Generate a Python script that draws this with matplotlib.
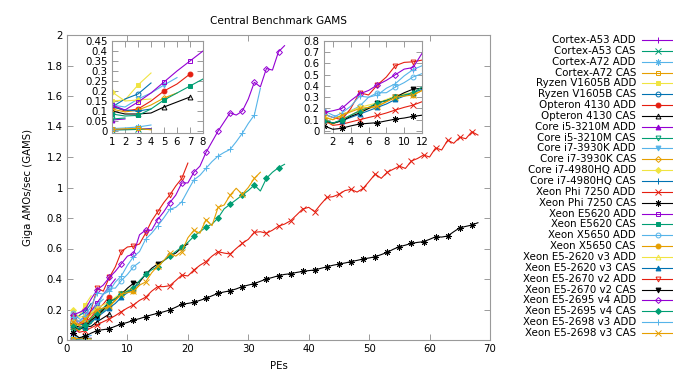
import numpy as np
import matplotlib
matplotlib.use("Agg")
from matplotlib import pyplot as plt
from matplotlib.lines import Line2D
from matplotlib.ticker import FuncFormatter

# GAMS per number of PEs, one list per machine/operation (x starts at 1)
cortex_a53_add = [0.006, 0.008, 0.010, 0.012]
cortex_a53_cas = [0.005, 0.006, 0.008, 0.009]
cortex_a72_add = [0.012, 0.015, 0.020, 0.030]
cortex_a72_cas = [0.008, 0.011, 0.013, 0.006]
ryzen_add = [0.15, 0.155, 0.23, 0.29]
ryzen_cas = [0.12, 0.16, 0.185, 0.24]
opteron_add = [0.125, 0.10, 0.11, 0.15, 0.20, 0.235, 0.285]
opteron_cas = [0.10, 0.085, 0.085, 0.09, 0.12, 0.145, 0.17]
i5_3210m_add = [0.055, 0.06]
i5_3210m_cas = [0.06, 0.065]
i7_3930k_add = [0.13, 0.12, 0.16, 0.19, 0.23, 0.267]
i7_3930k_cas = [0.11, 0.095, 0.105, 0.13, 0.165, 0.19]
i7_4980hq_add = [0.195, 0.15, 0.155, 0.16]
i7_4980hq_cas = [0.12, 0.105, 0.10, 0.11]
phi_add = [0.095, 0.05, 0.06, 0.08, 0.10, 0.12, 0.138, 0.16, 0.186, 0.21,
           0.23, 0.26, 0.28, 0.32, 0.35, 0.35, 0.356, 0.39, 0.426, 0.42,
           0.459, 0.49, 0.514, 0.55, 0.579, 0.57, 0.564, 0.60, 0.634, 0.66,
           0.706, 0.71, 0.70, 0.72, 0.747, 0.76, 0.782, 0.82, 0.859, 0.87,
           0.841, 0.89, 0.935, 0.94, 0.955, 0.98, 0.988, 0.97, 0.994, 1.04,
           1.088, 1.06, 1.10, 1.12, 1.14, 1.125, 1.174, 1.19, 1.213, 1.20,
           1.26, 1.246, 1.31, 1.29, 1.33, 1.32, 1.366, 1.344]
phi_cas = [0.045, 0.015, 0.024, 0.045, 0.062, 0.068, 0.074, 0.09, 0.105, 0.115,
           0.13, 0.14, 0.153, 0.165, 0.175, 0.185, 0.197, 0.215, 0.234, 0.24,
           0.247, 0.26, 0.273, 0.29, 0.306, 0.315, 0.323, 0.335, 0.35, 0.36,
           0.37, 0.385, 0.40, 0.41, 0.422, 0.43, 0.435, 0.443, 0.45, 0.455,
           0.459, 0.47, 0.48, 0.49, 0.498, 0.505, 0.514, 0.522, 0.531, 0.538,
           0.546, 0.56, 0.575, 0.595, 0.612, 0.622, 0.634, 0.64, 0.645, 0.66,
           0.677, 0.675, 0.682, 0.71, 0.736, 0.745, 0.754, 0.769]
e5620_add = [0.13, 0.105, 0.145, 0.19, 0.245, 0.30, 0.35, 0.40]
e5620_cas = [0.085, 0.075, 0.078, 0.11, 0.155, 0.19, 0.225, 0.26]
x5650_add = [0.18, 0.14, 0.12, 0.18, 0.22, 0.30, 0.34, 0.34, 0.39, 0.43, 0.48, 0.51]
x5650_cas = [0.09, 0.06, 0.10, 0.14, 0.18, 0.20, 0.22, 0.26, 0.30, 0.32, 0.32, 0.36]
e5_2620_add = [0.13, 0.10, 0.14, 0.18, 0.21, 0.23, 0.25, 0.28, 0.31, 0.33, 0.34, 0.38]
e5_2620_cas = [0.10, 0.07, 0.09, 0.12, 0.15, 0.18, 0.21, 0.24, 0.28, 0.31, 0.34, 0.37]
e5_2670_add = [0.15, 0.12, 0.10, 0.20, 0.34, 0.32, 0.41, 0.48, 0.58, 0.61,
               0.615, 0.63, 0.70, 0.78, 0.84, 0.90, 0.95, 1.01, 1.06, 1.16]
e5_2670_cas = [0.09, 0.07, 0.09, 0.13, 0.16, 0.20, 0.25, 0.27, 0.30, 0.34,
               0.372, 0.38, 0.43, 0.47, 0.498, 0.52, 0.55, 0.57, 0.605, 0.63]
e5_2695_add = [0.165, 0.18, 0.20, 0.27, 0.33, 0.36, 0.41, 0.45, 0.50, 0.55,
               0.564, 0.69, 0.72, 0.72, 0.79, 0.84, 0.90, 0.95, 1.03, 1.03,
               1.10, 1.14, 1.23, 1.30, 1.37, 1.43, 1.49, 1.475, 1.50, 1.58,
               1.69, 1.66, 1.78, 1.77, 1.89, 1.93]
e5_2695_cas = [0.10, 0.07, 0.10, 0.14, 0.18, 0.21, 0.25, 0.27, 0.30, 0.32,
               0.34, 0.39, 0.43, 0.46, 0.48, 0.52, 0.55, 0.58, 0.61, 0.64,
               0.68, 0.71, 0.74, 0.76, 0.80, 0.86, 0.89, 0.92, 0.95, 0.98,
               1.016, 0.977, 1.06, 1.10, 1.13, 1.152]
e5_2698_add = [0.15, 0.12, 0.16, 0.22, 0.31, 0.30, 0.32, 0.38, 0.42, 0.49,
               0.546, 0.58, 0.66, 0.70, 0.748, 0.80, 0.857, 0.87, 0.907, 0.98,
               1.05, 1.08, 1.126, 1.17, 1.206, 1.23, 1.25, 1.30, 1.355, 1.42,
               1.475, 1.65]
e5_2698_cas = [0.12, 0.10, 0.14, 0.17, 0.20, 0.21, 0.22, 0.26, 0.30, 0.31,
               0.32, 0.36, 0.38, 0.44, 0.485, 0.52, 0.57, 0.55, 0.58, 0.67,
               0.72, 0.70, 0.79, 0.75, 0.87, 0.885, 0.95, 0.995, 0.955, 1.00,
               1.06, 1.10]

labels = ["Cortex-A53 ADD", "Cortex-A53 CAS", "Cortex-A72 ADD", "Cortex-A72 CAS",
          "Ryzen V1605B ADD", "Ryzen V1605B CAS", "Opteron 4130 ADD", "Opteron 4130 CAS",
          "Core i5-3210M ADD", "Core i5-3210M CAS", "Core i7-3930K ADD", "Core i7-3930K CAS",
          "Core i7-4980HQ ADD", "Core i7-4980HQ CAS", "Xeon Phi 7250 ADD", "Xeon Phi 7250 CAS",
          "Xeon E5620 ADD", "Xeon E5620 CAS", "Xeon X5650 ADD", "Xeon X5650 CAS",
          "Xeon E5-2620 v3 ADD", "Xeon E5-2620 v3 CAS", "Xeon E5-2670 v2 ADD", "Xeon E5-2670 v2 CAS",
          "Xeon E5-2695 v4 ADD", "Xeon E5-2695 v4 CAS", "Xeon E5-2698 v3 ADD", "Xeon E5-2698 v3 CAS"]
values = [cortex_a53_add, cortex_a53_cas, cortex_a72_add, cortex_a72_cas,
          ryzen_add, ryzen_cas, opteron_add, opteron_cas,
          i5_3210m_add, i5_3210m_cas, i7_3930k_add, i7_3930k_cas,
          i7_4980hq_add, i7_4980hq_cas, phi_add, phi_cas,
          e5620_add, e5620_cas, x5650_add, x5650_cas,
          e5_2620_add, e5_2620_cas, e5_2670_add, e5_2670_cas,
          e5_2695_add, e5_2695_cas, e5_2698_add, e5_2698_cas]

# which series go into the two zoom insets
small_set = [0, 1, 2, 3, 4, 5, 6, 7, 8, 9, 10, 11, 12, 13, 16, 17]
big_set = [14, 15, 18, 19, 20, 21, 22, 23, 24, 25, 26, 27]

palette = ["#9400d3", "#009e73", "#56b4e9", "#e69f00",
           "#f0e442", "#0072b2", "#e51e10", "#000000"]
# gnuplot point types 1..13: (marker, filled)
ptypes = [("+", True), ("x", True), ((8, 2, 0), True), ("s", False), ("s", True),
          ("o", False), ("o", True), ("^", False), ("^", True), ("v", False),
          ("v", True), ("D", False), ("D", True)]


def style(i):
    c = palette[i % 8]
    m, filled = ptypes[i % 13]
    if m == "D":
        ms = 3.0
    elif m in ("+", "x"):
        ms = 4.0
    elif m == (8, 2, 0):
        ms = 4.6
    else:
        ms = 3.5
    return dict(color=c, lw=0.8, marker=m, ms=ms, mew=0.7,
                mfc=c if filled else "none", mec=c)


plt.rcParams['font.family'] = ['DejaVu Sans']
plt.rcParams['font.size'] = 7.3
frame_col = "#9a9a9a"
fmt = FuncFormatter(lambda v, p: "%g" % round(v, 3))


def frame(ax):
    for s in ax.spines.values():
        s.set_color(frame_col)
        s.set_linewidth(0.8)
    ax.tick_params(direction="in", top=True, right=True, length=4,
                   width=0.7, color=frame_col, labelsize=7.3, pad=3)
    ax.yaxis.set_major_formatter(fmt)
    ax.xaxis.set_major_formatter(fmt)


fig = plt.figure(figsize=(6.73, 3.76), dpi=100)
ax = fig.add_axes([67 / 673, 1 - 340 / 376, 423 / 673, 305 / 376])
for i, v in enumerate(values):
    x = np.arange(1, len(v) + 1)
    ax.plot(x, v, markevery=(0, 2), **style(i))
ax.set_xlim(0, 70)
ax.set_ylim(0, 2)
ax.set_xticks(np.arange(0, 71, 10))
ax.set_yticks(np.arange(0, 2.01, 0.2))
frame(ax)
ax.set_xlabel("PEs", labelpad=5)
ax.set_ylabel("Giga AMOs/sec (GAMS)", labelpad=10)
ax.set_title("Central Benchmark GAMS", fontsize=7.6, pad=8)

# inset 1: small machines
ax1 = fig.add_axes([112 / 673, 1 - 133 / 376, 91 / 673, 92 / 376])
for i in small_set:
    v = values[i]
    ax1.plot(np.arange(1, len(v) + 1), v, markevery=(0, 2), **style(i))
ax1.set_xlim(1, 8)
ax1.set_ylim(-0.01, 0.45)
ax1.set_xticks(range(1, 9))
ax1.set_yticks(np.arange(0, 0.451, 0.05))
frame(ax1)

# inset 2: big machines
ax2 = fig.add_axes([324 / 673, 1 - 133 / 376, 98 / 673, 92 / 376])
for i in big_set:
    v = values[i][:12]
    ax2.plot(np.arange(1, len(v) + 1), v, markevery=(0, 2), **style(i))
ax2.set_xlim(1, 12)
ax2.set_ylim(-0.018, 0.8)
ax2.set_xticks(range(2, 13, 2))
ax2.set_yticks(np.arange(0, 0.801, 0.1))
frame(ax2)

# legend outside on the right, gnuplot style (text then sample)
for i, lab in enumerate(labels):
    yp = 1 - (40 + i * 10.85) / 376
    fig.text(636 / 673, yp, lab, ha="right", va="center", fontsize=7.4)
    st = style(i)
    fig.add_artist(Line2D([642 / 673, 658 / 673, 675 / 673], [yp, yp, yp],
                          markevery=[1], transform=fig.transFigure, **st))

fig.savefig("out.png", dpi=100)
